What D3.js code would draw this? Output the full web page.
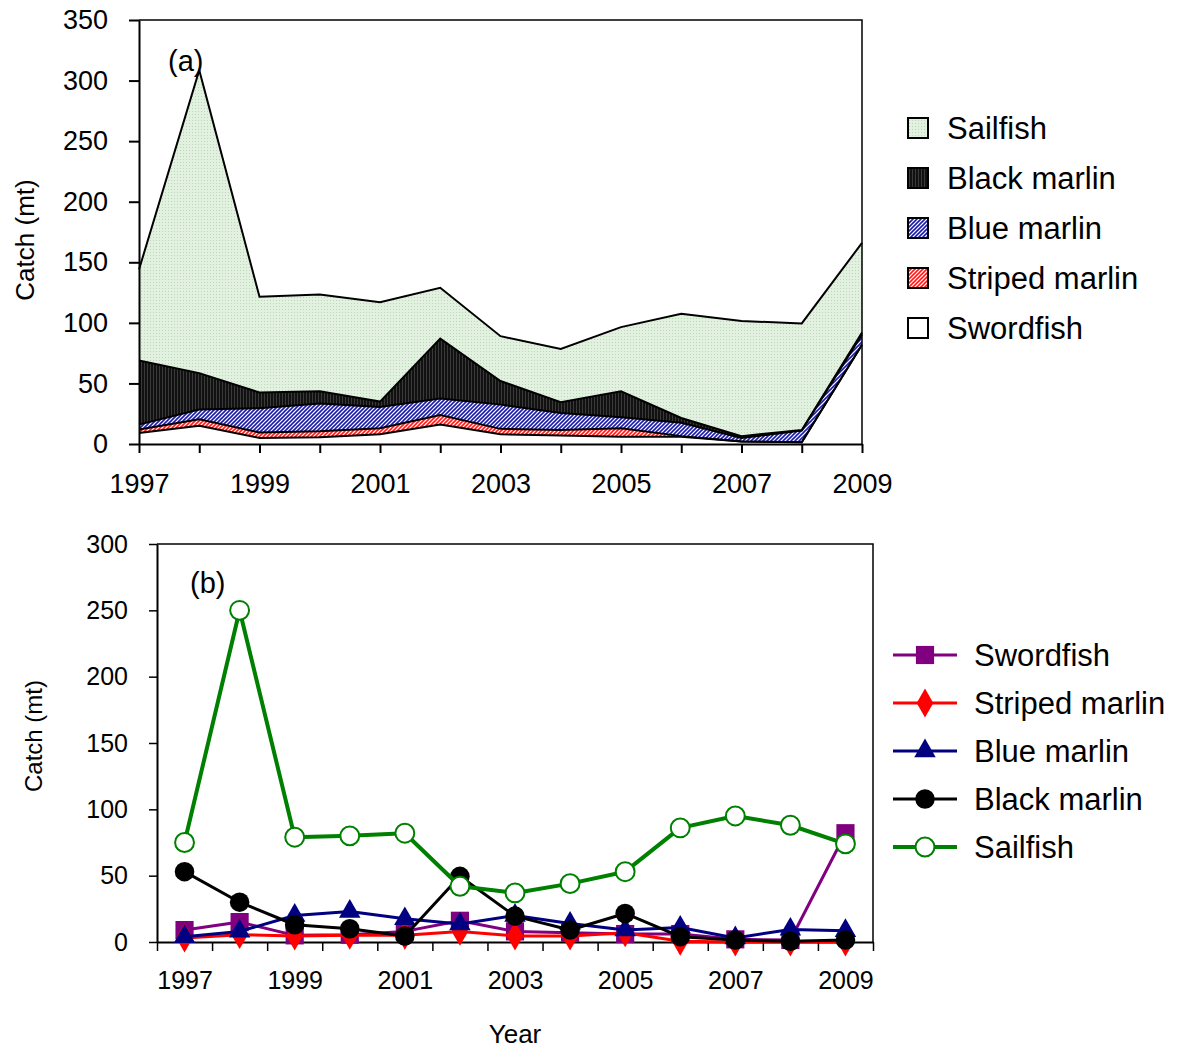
<!DOCTYPE html>
<html>
<head>
<meta charset="utf-8">
<script src="https://cdn.jsdelivr.net/npm/d3@7"></script>
<style>
  body { margin: 0; background: #fff; }
  text { font-family: "Liberation Sans", Arial, sans-serif; fill: #000; }
</style>
</head>
<body>
<svg id="chart" width="1183" height="1048"></svg>
<script>
// Annual catch (mt) by species, 1997-2009
const years = [1997, 1998, 1999, 2000, 2001, 2002, 2003, 2004, 2005, 2006, 2007, 2008, 2009];
const swordfish     = [9, 15, 5, 5.5, 8, 16, 8, 7, 6, 6, 2, 1.5, 82];
const stripedMarlin = [3, 5.5, 4.5, 5, 5, 8, 4.5, 4.5, 7, 0.5, 0, 0, 0];
const blueMarlin    = [4, 8, 20, 23, 17.5, 13.5, 20, 14, 9, 11, 3, 9.5, 8.5];
const blackMarlin   = [53, 30, 13, 10, 4.5, 49.5, 19.5, 9, 21.5, 4, 1.5, 0.5, 1.5];
const sailfish      = [75, 250, 79, 80, 82, 42, 37, 44, 53, 86, 95, 88, 74];

const speciesNames = ["Swordfish", "Striped marlin", "Blue marlin", "Black marlin", "Sailfish"];
const speciesValues = [swordfish, stripedMarlin, blueMarlin, blackMarlin, sailfish];

const yTicksA = [0, 50, 100, 150, 200, 250, 300, 350];
const yTicksB = [0, 50, 100, 150, 200, 250, 300];
const xLabelYears = [1997, 1999, 2001, 2003, 2005, 2007, 2009];

const svg = d3.select("#chart");
const defs = svg.append("defs");

// ---- fill patterns for the stacked areas ----
function makePattern(id, size, build) {
  const p = defs.append("pattern").attr("id", id)
    .attr("patternUnits", "userSpaceOnUse").attr("width", size).attr("height", size);
  build(p, size);
}
makePattern("pSail", 3, (p, s) => {
  p.append("rect").attr("width", s).attr("height", s).attr("fill", "#e3f2e0");
  p.append("rect").attr("width", 1).attr("height", 1).attr("fill", "#b9d8b5");
});
makePattern("pBlack", 3, (p, s) => {
  p.append("rect").attr("width", s).attr("height", s).attr("fill", "#111");
  p.append("rect").attr("width", 1).attr("height", s).attr("fill", "#3a3a3a");
});
makePattern("pBlue", 4, (p, s) => {
  p.append("rect").attr("width", s).attr("height", s).attr("fill", "#fff");
  p.append("path").attr("d", "M-1,1 L1,-1 M0,4 L4,0 M3,5 L5,3")
    .attr("stroke", "#1c1ca8").attr("stroke-width", 1.6);
});
makePattern("pRed", 4, (p, s) => {
  p.append("rect").attr("width", s).attr("height", s).attr("fill", "#fff");
  p.append("path").attr("d", "M-1,1 L1,-1 M0,4 L4,0 M3,5 L5,3")
    .attr("stroke", "#ff1a1a").attr("stroke-width", 1.6);
});
const areaFill = {
  "Swordfish": "#ffffff",
  "Striped marlin": "url(#pRed)",
  "Blue marlin": "url(#pBlue)",
  "Black marlin": "url(#pBlack)",
  "Sailfish": "url(#pSail)"
};

const rows = years.map((yr, i) => {
  const r = { year: yr };
  speciesNames.forEach((n, k) => r[n] = speciesValues[k][i]);
  return r;
});

// =================== Panel (a): stacked area ===================
const A = { left: 139, right: 862, top: 20, bottom: 444 };
const xA = d3.scaleLinear().domain([1997, 2009]).range([A.left, A.right]);
const yA = d3.scaleLinear().domain([0, 350]).range([A.bottom, A.top]);

const gA = svg.append("g");
const stacked = d3.stack().keys(speciesNames)(rows);

const area = d3.area()
  .x(d => xA(d.data.year)).y0(d => yA(d[0])).y1(d => yA(d[1]));
const topLine = d3.line().x(d => xA(d.data.year)).y(d => yA(d[1]));

gA.selectAll("path.layer").data(stacked).join("path")
  .attr("class", "layer")
  .attr("d", area)
  .attr("fill", d => areaFill[d.key]);
gA.selectAll("path.edge").data(stacked).join("path")
  .attr("class", "edge")
  .attr("d", topLine)
  .attr("fill", "none").attr("stroke", "#000").attr("stroke-width", 2)
  .attr("stroke-linejoin", "miter");

// frame
gA.append("path")
  .attr("d", `M${A.left},${A.top}H${A.right}V${A.bottom}`)
  .attr("fill", "none").attr("stroke", "#000").attr("stroke-width", 1.5);

const axA_y = gA.append("g").attr("transform", `translate(${A.left},0)`)
  .call(d3.axisLeft(yA).tickValues(yTicksA).tickSize(10).tickPadding(21).tickSizeOuter(0));
const axA_x = gA.append("g").attr("transform", `translate(0,${A.bottom})`)
  .call(d3.axisBottom(xA).tickValues(years).tickSize(9).tickPadding(21).tickSizeOuter(0)
    .tickFormat(d => xLabelYears.includes(d) ? String(d) : ""));
[axA_y, axA_x].forEach(ax => {
  ax.select(".domain").attr("stroke", "#000").attr("stroke-width", 2);
  ax.selectAll(".tick line").attr("stroke", "#000").attr("stroke-width", 2);
  ax.selectAll("text").style("font-size", "27px").attr("font-family", null);
});

gA.append("text").attr("x", 168).attr("y", 71).style("font-size", "29px").text("(a)");
gA.append("text")
  .attr("transform", "translate(34,240) rotate(-90)")
  .attr("text-anchor", "middle").style("font-size", "26px").text("Catch (mt)");

// legend (a): top of stack listed first
const legA = svg.append("g");
speciesNames.slice().reverse().forEach((name, i) => {
  const cy = 128 + i * 50;
  legA.append("rect").attr("x", 908).attr("y", cy - 10).attr("width", 20).attr("height", 20)
    .attr("fill", areaFill[name]).attr("stroke", "#000").attr("stroke-width", 2);
  legA.append("text").attr("x", 947).attr("y", cy + 11).style("font-size", "31px").text(name);
});

// =================== Panel (b): line chart ===================
const B = { left: 157, right: 873, top: 544, bottom: 942 };
const xB = d3.scaleLinear().domain([1996.5, 2009.5]).range([B.left, B.right]);
const yB = d3.scaleLinear().domain([0, 300]).range([B.bottom, B.top]);
const gB = svg.append("g");

gB.append("path")
  .attr("d", `M${B.left},${B.top}H${B.right}V${B.bottom}`)
  .attr("fill", "none").attr("stroke", "#000").attr("stroke-width", 1.5);

const boundaries = years.map(y => y - 0.5).concat([2009.5]);
const axB_y = gB.append("g").attr("transform", `translate(${B.left},0)`)
  .call(d3.axisLeft(yB).tickValues(yTicksB).tickSize(8).tickPadding(21).tickSizeOuter(0));
const axB_x = gB.append("g").attr("transform", `translate(0,${B.bottom})`)
  .call(d3.axisBottom(xB).tickValues(boundaries).tickSize(9).tickSizeOuter(0).tickFormat(""));
const axB_lab = gB.append("g").attr("transform", `translate(0,${B.bottom})`)
  .call(d3.axisBottom(xB).tickValues(xLabelYears).tickSize(0).tickPadding(29).tickFormat(d3.format("d")));
axB_lab.select(".domain").remove();
[axB_y, axB_x].forEach(ax => {
  ax.select(".domain").attr("stroke", "#000").attr("stroke-width", 2);
  ax.selectAll(".tick line").attr("stroke", "#000").attr("stroke-width", 1.5);
});
[axB_y, axB_lab].forEach(ax => ax.selectAll("text").style("font-size", "25px").attr("font-family", null));

gB.append("text").attr("x", 190).attr("y", 593).style("font-size", "29px").text("(b)");
gB.append("text")
  .attr("transform", "translate(42,736) rotate(-90)")
  .attr("text-anchor", "middle").style("font-size", "24px").text("Catch (mt)");
gB.append("text").attr("x", 515).attr("y", 1043).attr("text-anchor", "middle")
  .style("font-size", "26px").text("Year");

const style = {
  "Swordfish":      { color: "#800080", shape: d3.symbolSquare,   size: 330, fill: "#800080", width: 3 },
  "Striped marlin": { color: "#ff0000", shape: d3.symbolDiamond,  size: 240, fill: "#ff0000", width: 3 },
  "Blue marlin":    { color: "#000080", shape: d3.symbolTriangle, size: 200, fill: "#000080", width: 3 },
  "Black marlin":   { color: "#000000", shape: d3.symbolCircle,   size: 300, fill: "#000000", width: 3 },
  "Sailfish":       { color: "#008000", shape: d3.symbolCircle,   size: 280, fill: "#ffffff", width: 4 }
};

const lineB = d3.line().x(d => xB(d.year)).y(d => yB(d.value));
speciesNames.forEach((name, k) => {
  const st = style[name];
  const pts = years.map((yr, i) => ({ year: yr, value: speciesValues[k][i] }));
  const g = gB.append("g");
  g.append("path").datum(pts).attr("d", lineB)
    .attr("fill", "none").attr("stroke", st.color).attr("stroke-width", st.width)
    .attr("stroke-linejoin", "round");
  g.selectAll("path.m").data(pts).join("path").attr("class", "m")
    .attr("transform", d => `translate(${xB(d.year)},${yB(d.value)})`)
    .attr("d", d3.symbol(st.shape, st.size))
    .attr("fill", st.fill)
    .attr("stroke", st.color).attr("stroke-width", name === "Sailfish" ? 2 : 0);
});

// legend (b)
const legB = svg.append("g");
speciesNames.forEach((name, i) => {
  const st = style[name];
  const cy = 655 + i * 48;
  legB.append("line").attr("x1", 893).attr("x2", 957).attr("y1", cy).attr("y2", cy)
    .attr("stroke", st.color).attr("stroke-width", st.width);
  legB.append("path").attr("transform", `translate(925,${cy})`)
    .attr("d", d3.symbol(st.shape, st.size))
    .attr("fill", st.fill).attr("stroke", st.color).attr("stroke-width", name === "Sailfish" ? 2 : 0);
  legB.append("text").attr("x", 974).attr("y", cy + 11).style("font-size", "31px").text(name);
});
</script>
</body>
</html>
